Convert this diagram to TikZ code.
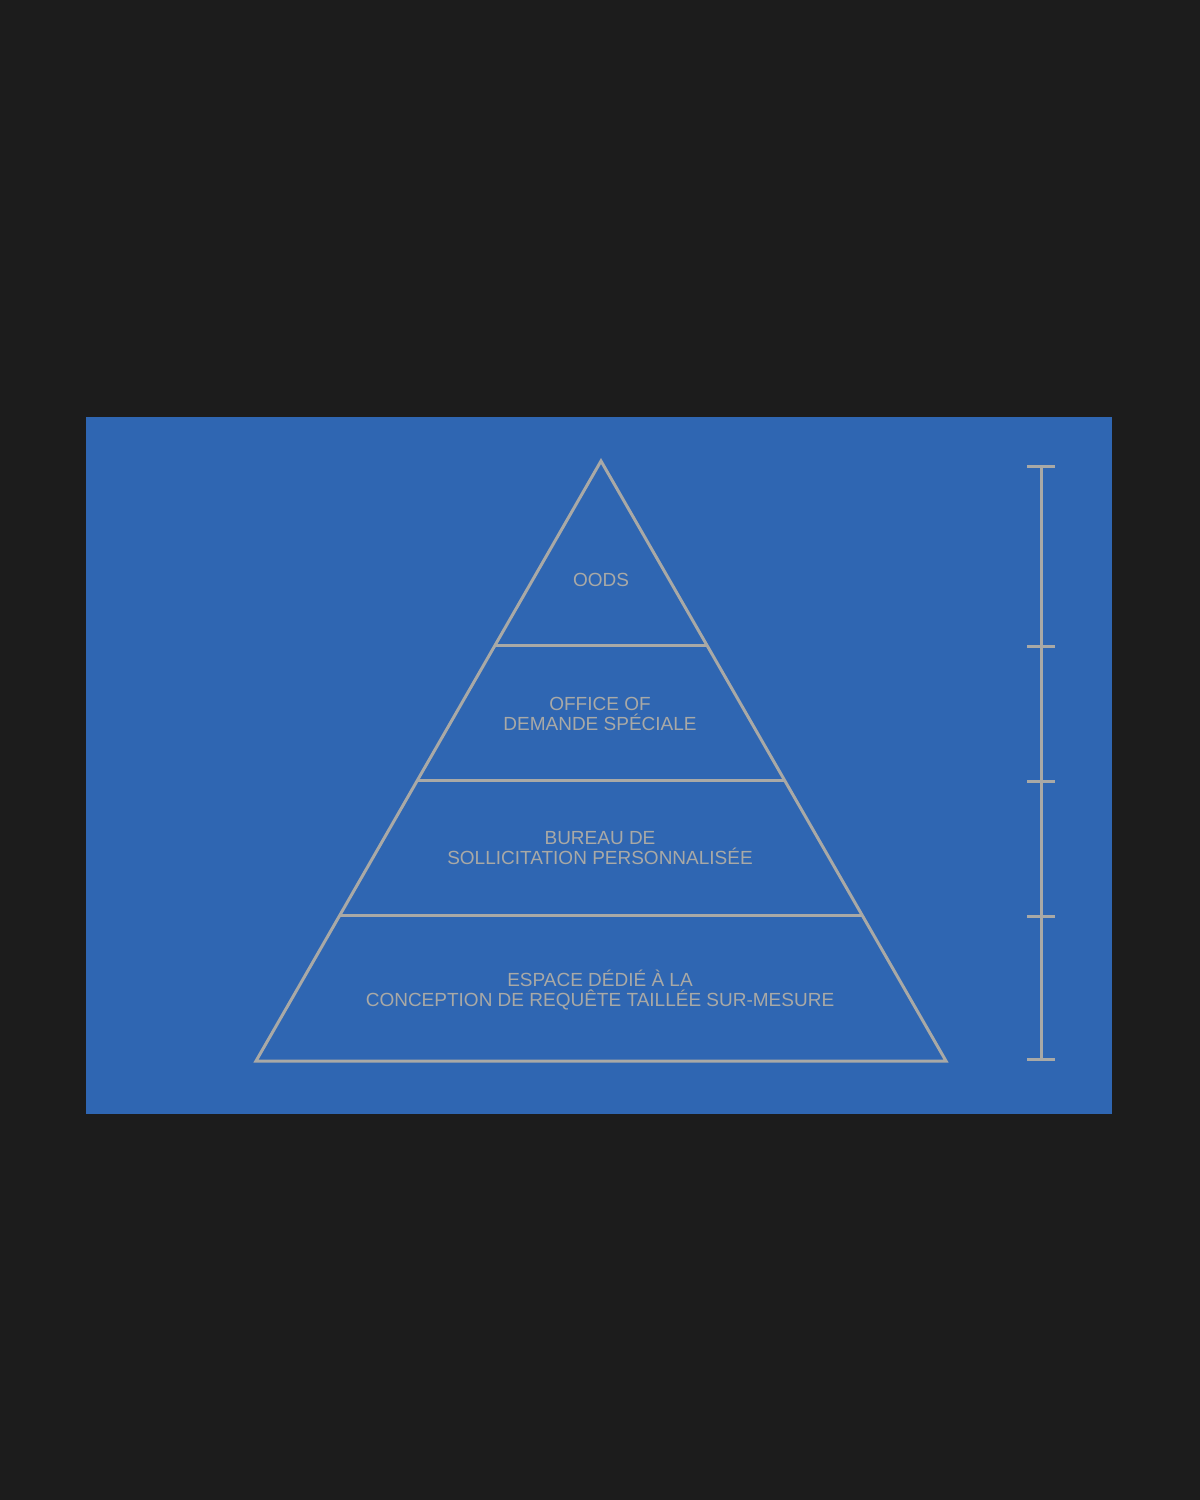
\documentclass[tikz,border=0pt]{standalone}
\usepackage{fontspec}
\setmainfont{Liberation Sans}
\definecolor{bgdark}{HTML}{1C1C1C}
\definecolor{cardblue}{HTML}{2F66B2}
\definecolor{linegray}{HTML}{A9A9A6}
\begin{document}
\begin{tikzpicture}[x=1pt,y=-1pt,
  gline/.style={draw=linegray,line width=3pt},
  lbl/.style={text=linegray,font=\fontsize{19}{20}\selectfont,align=center,inner sep=0pt}]
\fill[bgdark] (0,0) rectangle (1200,1500);
\useasboundingbox (0,0) rectangle (1200,1500);
\fill[cardblue] (86,417) rectangle (1112,1114);
% pyramid
\coordinate (apex) at (601,461);
\coordinate (bl) at (256,1061);
\coordinate (br) at (946,1061);
\draw[gline,line join=miter] (apex) -- (br) -- (bl) -- cycle;
\coordinate (l1) at (495,645); \coordinate (r1) at (707,645);
\coordinate (l2) at (418,780); \coordinate (r2) at (784,780);
\coordinate (l3) at (340,915); \coordinate (r3) at (862,915);
\draw[gline] (l1) -- (r1);
\draw[gline] (l2) -- (r2);
\draw[gline] (l3) -- (r3);
% labels
\node[lbl] (t1) at (601,580) {OODS};
\node[lbl] (t2) at (600,714) {OFFICE OF\\DEMANDE SPÉCIALE};
\node[lbl] (t3) at (600,848) {BUREAU DE\\SOLLICITATION PERSONNALISÉE};
\node[lbl] (t4) at (600,990) {ESPACE DÉDIÉ À LA\\CONCEPTION DE REQUÊTE TAILLÉE SUR-MESURE};
% scale bar
\coordinate (s0) at (1041,466);
\coordinate (s4) at (1041,1059);
\draw[gline] (s0) -- (s4);
\foreach \y in {466,646,781,916,1059}
  \draw[gline] (1027,\y) -- (1055,\y);
\end{tikzpicture}
\end{document}
